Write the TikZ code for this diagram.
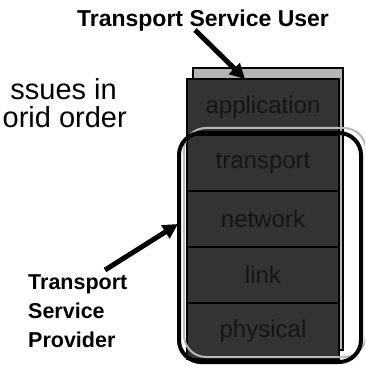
\documentclass[tikz,border=0pt]{standalone}
\usepackage{fontspec}
\setmainfont{Liberation Sans}
\usetikzlibrary{arrows.meta}
\definecolor{stackfill}{HTML}{333333}
\definecolor{stacktext}{HTML}{151515}
\definecolor{backfill}{HTML}{B4B4B4}
\tikzset{
  layerbox/.style={draw=black, line width=2pt, fill=stackfill, minimum width=152pt, minimum height=56pt, inner sep=0pt, anchor=north, text=stacktext, font=\fontsize{24}{28}\selectfont},
  bigarrow/.style={line width=5pt, -{Triangle[length=15pt,width=15pt]}},
  boldlabel/.style={font=\fontsize{23}{27}\selectfont\bfseries, inner sep=0pt},
  provlabel/.style={font=\fontsize{21.5}{29}\selectfont\bfseries, inner sep=0pt, align=left},
  slidetext/.style={font=\fontsize{29}{33}\selectfont, inner sep=0pt}
}
\begin{document}
\begin{tikzpicture}[x=1pt,y=-1pt]
\useasboundingbox (0,0) rectangle (365,366);
\clip (0,0) rectangle (365,366);
% slide text, cut off at the left
\node[slidetext, anchor=base east] (l1) at (117,100) {ssues in};
\node[slidetext, anchor=base east] (l2) at (127,128) {orid order};
% back sheet
\draw[line width=1.5pt, fill=backfill] (193,68) rectangle (343,350);
% layer stack
\node[layerbox] (app) at (263,78) {application};
\node[layerbox] (trans) at (263,134) {transport};
\node[layerbox] (net) at (263,190) {network};
\node[layerbox] (link) at (263,246) {link};
\node[layerbox] (phy) at (263,302) {physical};
% provider outline
\draw[line width=2pt, gray!55, rounded corners=22pt] (184,128) rectangle (366,357);
\draw[line width=4pt, rounded corners=22pt] (179,133) rectangle (361,362);
% labels
\node[boldlabel, anchor=base] (user) at (203,27) {Transport Service User};
\node[provlabel, anchor=base west] (prov1) at (28,289) {Transport};
\node[provlabel, anchor=base west] (prov2) at (28,318) {Service};
\node[provlabel, anchor=base west] (prov3) at (28,347) {Provider};
% arrows
\coordinate (uTail) at (195,30);
\coordinate (uTip) at (245,79);
\coordinate (pTail) at (105,270);
\coordinate (pTip) at (178,224);
\draw[bigarrow] (uTail) -- (uTip);
\draw[bigarrow] (pTail) -- (pTip);
\end{tikzpicture}
\end{document}
